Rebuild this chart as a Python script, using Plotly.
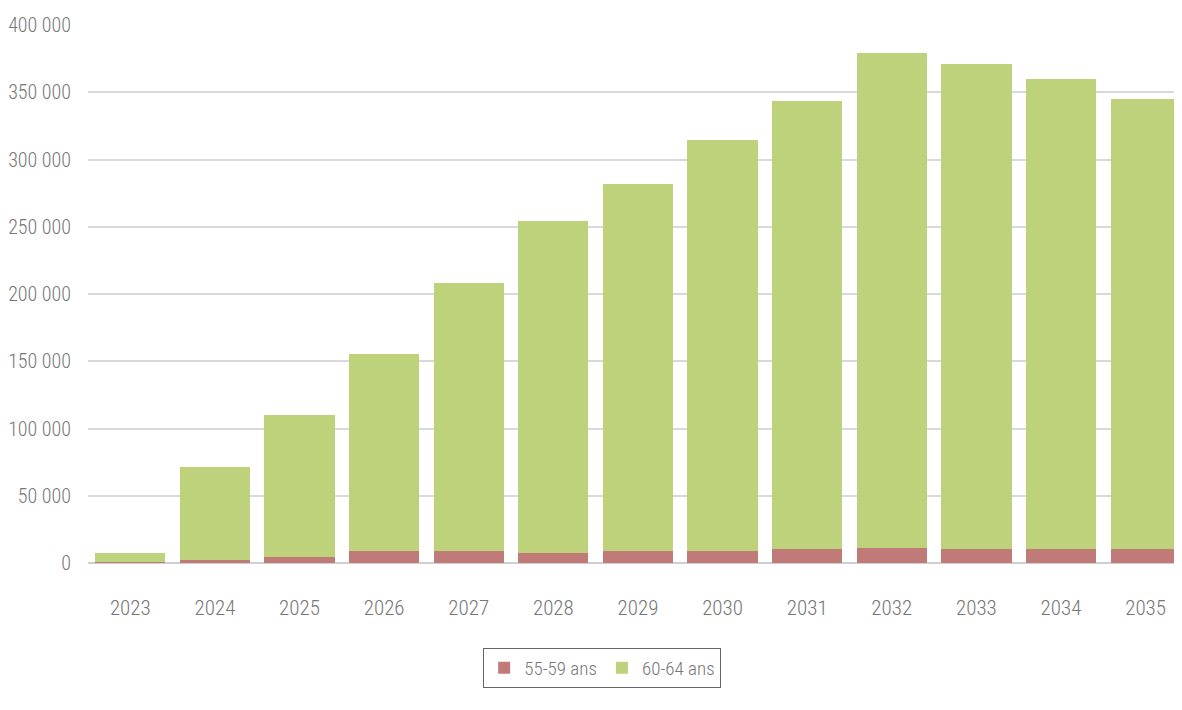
import plotly.graph_objects as go

years = ["2023", "2024", "2025", "2026", "2027", "2028", "2029",
         "2030", "2031", "2032", "2033", "2034", "2035"]
ans_55_59 = [500, 2000, 4500, 9000, 9000, 7500, 9000,
             9000, 10500, 11500, 10500, 10500, 10500]
ans_60_64 = [7100, 69200, 105500, 146500, 199200, 246800, 272800,
             305500, 333000, 367700, 360500, 349400, 334500]

FONT = "Roboto Condensed Light, Roboto Condensed, DejaVu Sans Condensed, sans-serif"

fig = go.Figure()
fig.add_trace(go.Bar(x=years, y=ans_55_59, name="55-59 ans",
                     marker=dict(color="#c07a78", line=dict(width=0))))
fig.add_trace(go.Bar(x=years, y=ans_60_64, name="60-64 ans",
                     marker=dict(color="#bed27c", line=dict(width=0))))

fig.update_layout(
    width=1182, height=710,
    barmode="stack", bargap=0.17,
    plot_bgcolor="white", paper_bgcolor="white",
    margin=dict(l=80, r=8, t=17, b=155, autoexpand=False),
    font=dict(family=FONT, size=20, color="#777777"),
    separators=", ",
    showlegend=True,
    legend=dict(orientation="h", x=0.47, xanchor="center", y=-0.158, yanchor="top",
                bordercolor="#666", borderwidth=1, font=dict(size=19, color="#777777"),
                traceorder="normal", itemwidth=30),
    xaxis=dict(range=[-0.5, 12.43], showgrid=False, showline=False, ticks="",
               automargin=False, ticklabelstandoff=30, tickfont=dict(size=21)),
    yaxis=dict(range=[0, 400000], dtick=50000, tickformat=",d",
               showgrid=True, gridcolor="#d9d9d9", gridwidth=1.5,
               zeroline=True, zerolinecolor="#cfcfcf", zerolinewidth=1.5,
               showline=False, ticks="", ticklabelstandoff=16, automargin=False,
               tickfont=dict(size=20)),
)

fig.write_html("out.html")
